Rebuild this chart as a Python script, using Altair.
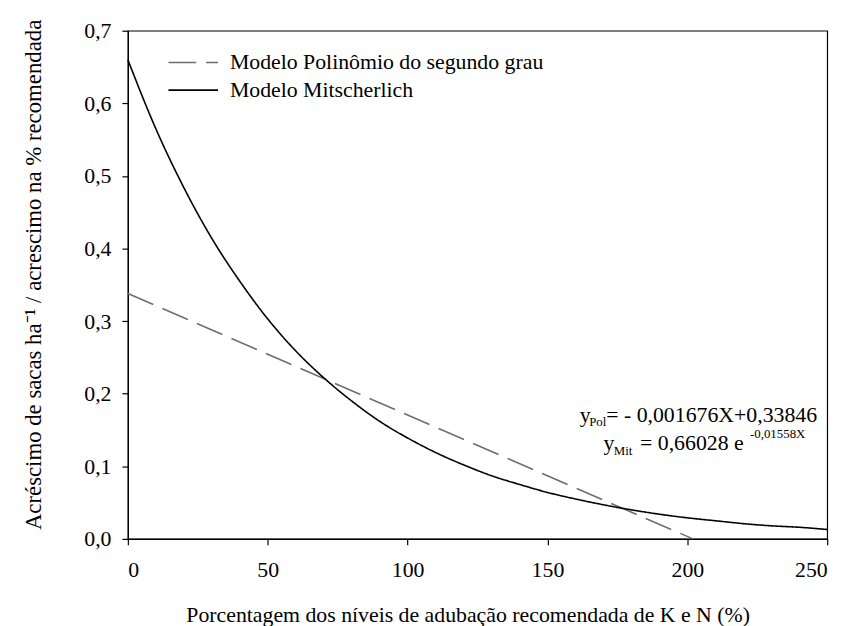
import altair as alt
import pandas as pd

# Mitscherlich curve
mit_x = [0, 10, 20, 30, 40, 50, 60, 70, 80, 90, 100, 110, 120, 130, 140, 150,
         160, 170, 180, 190, 200, 210, 220, 230, 240, 250]
mit_y = [0.660, 0.565, 0.484, 0.414, 0.355, 0.303, 0.259, 0.222, 0.190, 0.162,
         0.139, 0.119, 0.102, 0.087, 0.075, 0.064, 0.055, 0.047, 0.040, 0.034,
         0.029, 0.025, 0.021, 0.018, 0.016, 0.013]

# Polynomial (linear) model
pol_x = [0, 202]
pol_y = [0.338, 0.0]

series_names = ["Modelo Polinômio do segundo grau", "Modelo Mitscherlich"]
series_colors = ["#6e6e6e", "#000000"]
series_dash = [[28, 10], [1, 0]]

x_ticks = [0, 50, 100, 150, 200, 250]
y_ticks = [0.0, 0.1, 0.2, 0.3, 0.4, 0.5, 0.6, 0.7]

# equation annotation pieces (text, x, y, font size)
ann_text = ["y", "Pol", "= - 0,001676X+0,33846",
            "y", "Mit", "= 0,66028 e", "-0,01558X"]
ann_x = [161.5, 164.9, 171.0, 170.0, 173.7, 183.1, 222.4]
ann_y = [0.1610, 0.1560, 0.1610, 0.1228, 0.1160, 0.1228, 0.1392]
ann_size = [22, 13, 22, 22, 13, 22, 13]

FONT = "Liberation Serif"

df = pd.concat([
    pd.DataFrame({"x": pol_x, "y": pol_y, "serie": series_names[0]}),
    pd.DataFrame({"x": mit_x, "y": mit_y, "serie": series_names[1]}),
])
ann = pd.DataFrame({"t": ann_text, "x": ann_x, "y": ann_y, "fs": ann_size})

xscale = alt.Scale(domain=[0, 250], nice=False, zero=False)
yscale = alt.Scale(domain=[0, 0.7], nice=False)

lines = alt.Chart(df).mark_line(strokeWidth=1.6, interpolate="monotone").encode(
    x=alt.X("x:Q", scale=xscale,
            axis=alt.Axis(values=x_ticks, format="d", grid=False,
                          title="Porcentagem dos níveis de adubação recomendada de K e N (%)",
                          titleX=343, titleY=83, titleAlign="center",
                          titleBaseline="alphabetic",
                          labelPadding=15)),
    y=alt.Y("y:Q", scale=yscale,
            axis=alt.Axis(values=y_ticks, grid=False,
                          labelExpr="replace(format(datum.value, '.1f'), '.', ',')",
                          title="Acréscimo de sacas ha⁻¹   / acrescimo na % recomendada",
                          titleX=-95, titleY=246, titleAngle=270, titleFontSize=23,
                          titleAlign="center", titleBaseline="middle",
                          labelPadding=11)),
    color=alt.Color("serie:N", sort=series_names,
                    scale=alt.Scale(domain=series_names, range=series_colors),
                    legend=None),
    strokeDash=alt.StrokeDash("serie:N", sort=series_names,
                              scale=alt.Scale(domain=series_names, range=series_dash),
                              legend=None),
    order=alt.Order("x:Q"),
)

texts = alt.Chart(ann).mark_text(align="left", baseline="alphabetic", font=FONT,
                                 color="black").encode(
    x=alt.X("x:Q", scale=xscale),
    y=alt.Y("y:Q", scale=yscale),
    text="t:N",
    size=alt.Size("fs:Q", scale=None, legend=None),
)

# hand-drawn legend (top-left, inside the plot)
legend_layers = []
row_y = [32, 60]
for i, name in enumerate(series_names):
    ldf = pd.DataFrame({"t": [name]})
    legend_layers.append(
        alt.Chart(ldf).mark_rule(color=series_colors[i], strokeWidth=1.6,
                                 strokeDash=series_dash[i]).encode(
            x=alt.value(41), x2=alt.value(91), y=alt.value(row_y[i])))
    legend_layers.append(
        alt.Chart(ldf).mark_text(align="left", baseline="alphabetic", font=FONT,
                                 fontSize=22, color="black").encode(
            x=alt.value(103), y=alt.value(row_y[i] + 7), text="t:N"))

chart = alt.layer(lines, texts, *legend_layers).properties(
    width=706, height=513,
    autosize=alt.AutoSizeParams(type="none"),
    padding={"left": 121, "top": 20, "right": 20, "bottom": 85},
).configure_view(
    stroke="black", strokeWidth=1.2
).configure_axis(
    domainColor="black", domainWidth=1.2, tickColor="black", tickSize=6, tickWidth=1.2,
    labelFont=FONT, labelFontSize=22, labelColor="black",
    titleFont=FONT, titleFontSize=22, titleColor="black", titleFontWeight="normal",
)

chart.save("out.html", embed_options={"renderer": "svg", "actions": False})
